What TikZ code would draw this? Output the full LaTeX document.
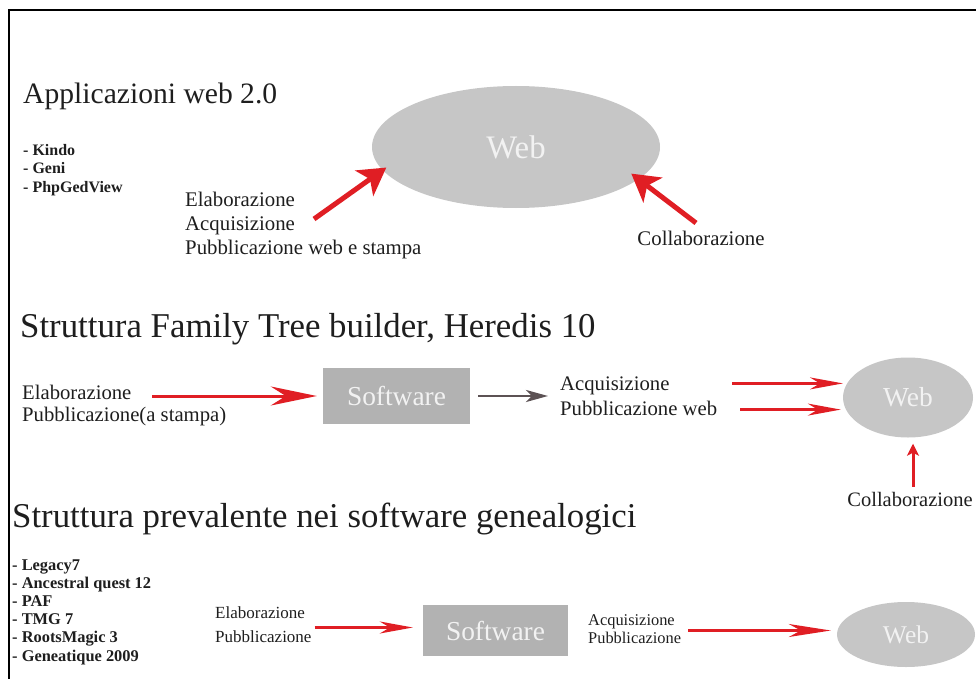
\documentclass[tikz,border=0pt]{standalone}
\usepackage{fontspec}
\setmainfont{Liberation Serif}
\usetikzlibrary{positioning,shapes.geometric,arrows.meta,calc}

\definecolor{arrred}{RGB}{224,30,36}
\definecolor{webgray}{RGB}{198,198,198}
\definecolor{swgray}{RGB}{178,178,178}
\definecolor{darkarr}{RGB}{92,82,84}
\definecolor{inkblack}{RGB}{30,30,30}
\definecolor{paletext}{RGB}{242,242,242}

\newcommand{\fs}[2]{\fontsize{#1}{#2}\selectfont}

\begin{document}
\begin{tikzpicture}[x=1pt,y=-1pt,>=stealth,
    every node/.style={inner sep=0pt,text=inkblack},
    ttl/.style={anchor=base west},
    txt/.style={anchor=base west,align=left},
    lst/.style={anchor=base west,align=left,font=\bfseries\fs{16}{18}},
    webell/.style={ellipse,fill=webgray,text=paletext},
    swbox/.style={rectangle,fill=swgray,text=paletext,font=\fs{27.4}{30}},
    bigarrow/.style={draw=arrred,line width=5pt,-{Stealth[length=27pt,width=31pt,inset=7pt]}},
    redarrow/.style={draw=arrred,line width=3pt,-{Stealth[length=46pt,width=19pt,inset=15pt]}},
    shortred/.style={draw=arrred,line width=2.6pt,-{Stealth[length=33pt,width=12pt,inset=10pt]}},
    grayarrow/.style={draw=darkarr,line width=2.7pt,-{Stealth[length=22pt,width=12pt,inset=6pt]}},
    uparrow/.style={draw=arrred,line width=3pt,-{Stealth[length=12pt,width=12pt,inset=3pt]}},
  ]
  \useasboundingbox (0,0) rectangle (976,679);
  % frame
  \draw[line width=2.6pt] (9,679) -- (9,10) -- (976,10);

  % web 2.0 (multi-line nodes sit on the baseline of their last line)
  \node[ttl,font=\fs{29.6}{32}] (app) at (23,104) {Applicazioni web 2.0};
  \node[lst] (applist) at (23,192) {- Kindo\\- Geni\\- PhpGedView};
  \node[webell,minimum width=288pt,minimum height=122pt,font=\fs{32.8}{36}] (web1) at (516,147) {Web};
  \node[txt,font=\fs{20.8}{24}] (elab1) at (185,254) {Elaborazione\\Acquisizione\\Pubblicazione web e stampa};
  \node[font=\fs{20.8}{24}] (coll1) at (701,238.5) {Collaborazione};
  \coordinate (s1) at (314,219);

  \draw[bigarrow] (s1) -- ($(web1.center)!0.96!(web1.189)$);
  \draw[bigarrow] ([xshift=-5pt,yshift=8pt]coll1.north) -- ($(web1.center)!0.91!(web1.347)$);

  % family tree builder, heredis
  \node[ttl,font=\fs{34.8}{38}] (ftb) at (20,337) {Struttura Family Tree builder, Heredis 10};
  \node[txt,font=\fs{20.7}{22}] (elab2) at (22,421) {Elaborazione\\Pubblicazione(a stampa)};
  \node[swbox,minimum width=147pt,minimum height=56pt] (sw1) at (396.5,396) {Software};
  \node[txt,font=\fs{20.7}{25}] (acq2) at (560,415) {Acquisizione\\Pubblicazione web};
  \node[webell,minimum width=130pt,minimum height=80pt,font=\fs{27.5}{30}] (web2) at (908,397.5) {Web};
  \node[font=\fs{20.5}{24}] (coll2) at (910,499) {Collaborazione};
  \coordinate (s2) at (152,396);

  \draw[redarrow,shorten >=6pt] (s2) -- (s2 -| sw1.west);
  \draw[grayarrow,shorten <=8pt,shorten >=12pt] (sw1.east) -- (sw1.east -| acq2.west);
  \draw[shortred] ($(acq2.east |- web2.167)+(15,0)$) -- ($(web2.167)+(-4,0)$);
  \draw[shortred] ($(acq2.east |- web2.191)+(23,0)$) -- ($(web2.191)+(-5,0)$);
  \draw[uparrow,shorten <=5pt,shorten >=6pt] ($(coll2.north)+(3,0)$) -- ($(coll2.north |- web2.south)+(3,0)$);

  % software genealogici
  \node[ttl,font=\fs{34.8}{38}] (prev) at (12,527) {Struttura prevalente nei software genealogici};
  \node[lst,font=\bfseries\fs{16.4}{18.1}] (swlist) at (12,661) {- Legacy7\\- Ancestral quest 12\\- PAF\\- TMG 7\\- RootsMagic 3\\- Geneatique 2009};
  \node[txt,font=\fs{17}{24}] (elab3) at (215,642.5) {Elaborazione\\Pubblicazione};
  \node[swbox,minimum width=145pt,minimum height=51pt] (sw2) at (495.5,630.5) {Software};
  \node[txt,font=\fs{16.4}{18}] (acq3) at (588,643) {Acquisizione\\Pubblicazione};
  \node[webell,minimum width=138pt,minimum height=65pt,font=\fs{25.5}{28}] (web3) at (906,634.5) {Web};

  \draw[shortred] ($(elab3.east |- sw2.west)+(3,-3)$) -- ($(sw2.west)+(-10,-3)$);
  \draw[shortred,-{Stealth[length=42pt,width=13pt,inset=12pt]}] ($(acq3.east |- web3.west)+(7,-4)$) -- ($(web3.west)+(-6,-4)$);

\end{tikzpicture}
\end{document}
